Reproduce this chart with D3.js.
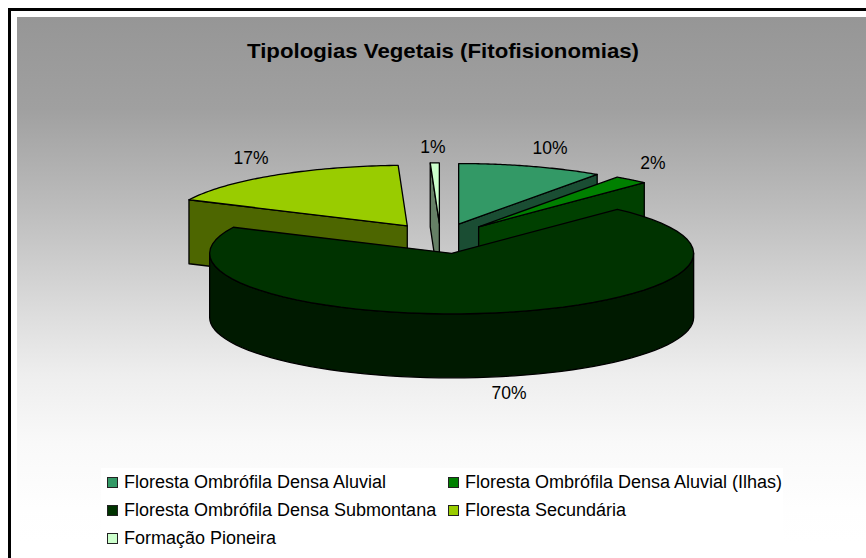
<!DOCTYPE html>
<html>
<head>
<meta charset="UTF-8">
<style>
html, body { margin: 0; padding: 0; background: #fff; }
svg { display: block; }
text { font-family: "Liberation Sans", Arial, sans-serif; fill: #000; }
</style>
</head>
<body>
<svg width="866" height="558"></svg>
<script src="https://d3js.org/d3.v7.min.js"></script>
<script>
var categories = [
  "Floresta Ombrófila Densa Aluvial",
  "Floresta Ombrófila Densa Aluvial (Ilhas)",
  "Floresta Ombrófila Densa Submontana",
  "Floresta Secundária",
  "Formação Pioneira"
];
var shares = [9.7, 2.3, 70.1, 17.3, 0.6];
var colors = ["#339966", "#008000", "#003300", "#99cc00", "#ccffcc"];
var title = "Tipologias Vegetais (Fitofisionomias)";

var svg = d3.select("svg");

// pie geometry
var cx = 440.5, cy = 238.5, rx = 242, ry = 60.5, depth = 64, explode = 0.25;
var x = d3.scaleLinear().domain([-1, 1]).range([cx - rx, cx + rx]);
var y = d3.scaleLinear().domain([-1, 1]).range([cy - ry, cy + ry]);
var line = d3.line().x(function(d) { return d[0]; }).y(function(d) { return d[1]; });

// background gradient, not linear in the original
var gradStops = [[0, "#969696"], [17.5, "#a0a0a0"], [36, "#bcbcbc"], [56, "#dcdcdc"], [68, "#eeeeee"], [81, "#f9f9f9"], [93.5, "#fefefe"], [100, "#ffffff"]];
var grad = svg.append("defs").append("linearGradient")
    .attr("id", "bg").attr("x1", 0).attr("y1", 0).attr("x2", 0).attr("y2", 1);
gradStops.forEach(function(s) {
  grad.append("stop").attr("offset", s[0] + "%").attr("stop-color", s[1]);
});

svg.append("rect").attr("x", 17).attr("y", 17).attr("width", 849).attr("height", 526).attr("fill", "url(#bg)");
svg.append("rect").attr("x", 8).attr("y", 8).attr("width", 858).attr("height", 3).attr("fill", "#000");
svg.append("rect").attr("x", 8).attr("y", 8).attr("width", 3).attr("height", 550).attr("fill", "#000");

svg.append("text")
    .attr("x", 247).attr("y", 58)
    .attr("textLength", 392).attr("lengthAdjust", "spacingAndGlyphs")
    .style("font-size", "21px").style("font-weight", "bold")
    .text(title);

var pie = d3.pie().sort(null).startAngle(0).endAngle(2 * Math.PI);
var arcs = pie(shares);

// point on the ellipse, angle clockwise from 12 o'clock, shifted out along the slice's middle
function pt(d, a, r, drop) {
  var mid = (d.startAngle + d.endAngle) / 2;
  return [
    x(Math.sin(mid) * explode + Math.sin(a) * r),
    y(-Math.cos(mid) * explode - Math.cos(a) * r) + (drop || 0)
  ];
}
function half(c) {
  var k = d3.rgb(c);
  return d3.rgb(k.r / 2, k.g / 2, k.b / 2).formatHex();
}
function arcPoints(d, a0, a1, drop) {
  return d3.range(0, 61).map(function(i) {
    return pt(d, a0 + (a1 - a0) * i / 60, 1, drop);
  });
}
function draw(points, fill) {
  svg.append("path")
      .attr("d", line(points) + "Z")
      .attr("fill", fill)
      .attr("stroke", "#000")
      .attr("stroke-width", 1.3)
      .attr("stroke-linejoin", "round");
}
function radialFace(d, a, fill) {
  draw([pt(d, a, 0), pt(d, a, 1), pt(d, a, 1, depth), pt(d, a, 0, depth)], fill);
}
function topFace(d, fill) {
  draw([pt(d, 0, 0)].concat(arcPoints(d, d.startAngle, d.endAngle)), fill);
}

// back slices first, the big slice goes over them
[3, 4, 0, 1].forEach(function(i) {
  var d = arcs[i];
  var a = d.startAngle > Math.PI ? d.startAngle : d.endAngle;
  radialFace(d, a, half(colors[i]));
  topFace(d, colors[i]);
});

var big = arcs[2];
draw(arcPoints(big, Math.PI / 2, 3 * Math.PI / 2)
    .concat(arcPoints(big, Math.PI / 2, 3 * Math.PI / 2, depth).reverse()), half(colors[2]));
topFace(big, colors[2]);

// data labels
var labelX = [550, 653, 509, 251, 433];
var labelY = [154, 169, 399, 164, 153];
var total = d3.sum(shares);
var pct = d3.format(".0%");
svg.selectAll(".lbl").data(shares).enter().append("text")
    .attr("class", "lbl")
    .attr("x", function(d, i) { return labelX[i]; })
    .attr("y", function(d, i) { return labelY[i]; })
    .attr("text-anchor", "middle")
    .style("font-size", "17.5px")
    .text(function(d) { return pct(d / total); });

// legend
svg.append("rect").attr("x", 101).attr("y", 468).attr("width", 682).attr("height", 80).attr("fill", "#fff");
var legX = [107, 448, 107, 448, 107];
var legY = [483, 483, 511, 511, 539];
var leg = svg.selectAll(".leg").data(categories).enter().append("g")
    .attr("class", "leg")
    .attr("transform", function(d, i) { return "translate(" + legX[i] + "," + legY[i] + ")"; });
leg.append("rect")
    .attr("x", 0.5).attr("y", -5.5).attr("width", 10).attr("height", 10)
    .attr("fill", function(d, i) { return colors[i]; })
    .attr("stroke", "#222").attr("stroke-width", 1);
leg.append("text")
    .attr("x", 17).attr("y", 5)
    .style("font-size", "18px")
    .text(function(d) { return d; });
</script>
</body>
</html>
